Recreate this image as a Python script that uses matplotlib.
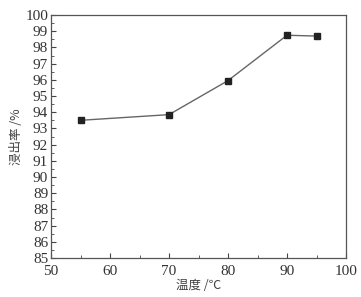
import matplotlib
matplotlib.use("Agg")
import matplotlib.pyplot as plt
from matplotlib.ticker import MultipleLocator

temps = [55, 70, 80, 90, 95]
rates = [93.5, 93.85, 95.95, 98.75, 98.7]
xlabel = "温度 /℃"
ylabel = "浸出率 /%"

fig = plt.figure(figsize=(3.61, 2.97), dpi=100)
ax = fig.add_axes([51/361, 1-258/297, (346-51)/361, (258-15)/297])
ax.plot(temps, rates, color="#666666", lw=1.0, marker="s", ms=5,
        mfc="#222222", mec="#222222")
ax.set_xlim(50, 100)
ax.set_ylim(85, 100)
ax.xaxis.set_major_locator(MultipleLocator(10))
ax.xaxis.set_minor_locator(MultipleLocator(5))
ax.yaxis.set_major_locator(MultipleLocator(1))
ax.yaxis.set_minor_locator(MultipleLocator(0.5))
ax.tick_params(which="both", direction="in", top=False, right=False, colors="#444444")
ax.tick_params(which="major", length=3.5, width=0.8, labelsize=11, pad=2, labelcolor="#333333")
ax.tick_params(axis="x", which="major", pad=5)
ax.tick_params(which="minor", length=2, width=0.6)
for lab in ax.get_xticklabels() + ax.get_yticklabels():
    lab.set_fontfamily("Liberation Serif")
for s in ax.spines.values():
    s.set_color("#555555")
    s.set_linewidth(0.9)
ax.set_xlabel(xlabel, family=["Noto Sans CJK SC", "DejaVu Sans"], fontsize=9, color="#444444", labelpad=1)
ax.set_ylabel(ylabel, family=["Noto Sans CJK SC", "DejaVu Sans"], fontsize=9, color="#444444", labelpad=2)
fig.savefig("out.png", dpi=100)
